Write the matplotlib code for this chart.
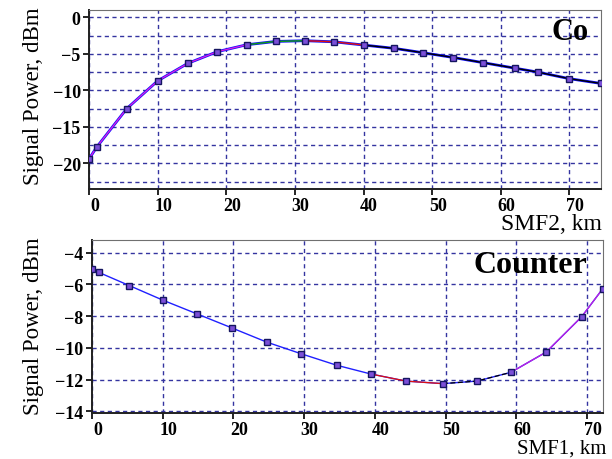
#Signal power along the fibre span for co- and counter-pumped cases.

import numpy as np
import matplotlib
import matplotlib.pyplot as plt
from matplotlib.transforms import ScaledTranslation

#Serif font close to Times New Roman.
font = {'family': 'Liberation Serif',
        'size': 12}
matplotlib.rc('font', **font)

#Co-pumped case (SMF2).
co_km = [0, 1.1, 5.5, 10.0, 14.4, 18.7, 23.0, 27.2, 31.5, 35.7, 40.1,
         44.5, 48.7, 53.1, 57.4, 62.0, 65.4, 70.0, 74.6]
co_dbm = [-19.4, -17.8, -12.5, -8.7, -6.3, -4.7, -3.75, -3.3, -3.2, -3.35,
          -3.8, -4.25, -4.85, -5.5, -6.2, -6.95, -7.5, -8.4, -9.05]

#Counter-pumped case (SMF1).
cnt_km = [0, 1.0, 5.3, 10.1, 14.9, 19.8, 24.7, 29.6, 34.6, 39.4, 44.4,
          49.6, 54.4, 59.2, 64.2, 69.2, 72.2]
cnt_dbm = [-5.02, -5.24, -6.07, -7.0, -7.86, -8.74, -9.63, -10.37, -11.09,
           -11.64, -12.09, -12.25, -12.09, -11.54, -10.26, -8.04, -6.26]

grid_col = '#3434a0'
mk = dict(marker='s', ms=4.5, mfc='#7b4fd8', mec='#151560', mew=1.0)

fig = plt.figure(figsize=(6.12, 4.6), dpi=100)
ax1 = fig.add_axes([0.1454, 0.587, 0.8366, 0.389])
ax2 = fig.add_axes([0.150, 0.100, 0.835, 0.376])

#Top panel: overlapping traces.
ax1.plot(co_km, co_dbm, color='#1010ff', lw=2.0, zorder=3)
ax1.plot(co_km[:7], co_dbm[:7], color='#e020e0', lw=0.9, zorder=4)
ax1.plot(co_km[6:9], co_dbm[6:9], color='#10a010', lw=1.0, zorder=4)
ax1.plot(co_km[8:11], co_dbm[8:11], color='#e01010', lw=1.0, zorder=4)
ax1.plot(co_km[10:], co_dbm[10:], color='black', lw=1.0, zorder=4)
ax1.plot(co_km, co_dbm, ls='none', zorder=5, **mk)

#Bottom panel.
ax2.plot(cnt_km, cnt_dbm, color='#2020ff', lw=1.0, zorder=3)
ax2.plot(cnt_km[9:12], cnt_dbm[9:12], color='#e01010', lw=0.9, zorder=4)
ax2.plot(cnt_km[11:14], cnt_dbm[11:14], color='black', lw=0.9, ls=(0, (4, 2)), zorder=4)
ax2.plot(cnt_km[13:], cnt_dbm[13:], color='#c020e0', lw=0.9, zorder=4)
ax2.plot(cnt_km, cnt_dbm, ls='none', zorder=5, **mk)

#Axis limits and ticks.
ax1.set_xlim(0, 74.6)
ax1.set_ylim(-23.5, 1.0)
ax1.set_xticks(np.arange(0, 71, 10))
ax1.set_yticks(np.arange(-20, 1, 5))
ax1.set_yticks(np.arange(-22.5, 1, 2.5), minor=True)

ax2.set_xlim(0, 72.2)
ax2.set_ylim(-14.1, -3.2)
ax2.set_xticks(np.arange(0, 71, 10))
ax2.set_yticks(np.arange(-14, -3, 2))

for ax in (ax1, ax2):
    ax.grid(which='both', color=grid_col, linestyle=(0, (3, 2.5)), linewidth=1.0)
    ax.set_axisbelow(True)
    ax.tick_params(which='major', direction='out', length=4, width=1.2, labelsize=13, pad=2)
    ax.tick_params(which='minor', length=0)
    for lab in ax.get_xticklabels() + ax.get_yticklabels():
        lab.set_fontweight('bold')
    #Tick labels in the original sit slightly right of the ticks.
    off = ScaledTranslation(4 / 72, 0, fig.dpi_scale_trans)
    for lab in ax.get_xticklabels():
        lab.set_transform(lab.get_transform() + off)
    for side in ('left', 'bottom'):
        ax.spines[side].set_linewidth(1.4)
        ax.spines[side].set_color('#202020')
    for side in ('top', 'right'):
        ax.spines[side].set_linewidth(0.8)
        ax.spines[side].set_color('#707070')

#Labels and panel titles.
fig.text(0.055, 0.79, 'Signal Power, dBm', rotation=90, ha='center', va='center', fontsize=16.5)
fig.text(0.055, 0.29, 'Signal Power, dBm', rotation=90, ha='center', va='center', fontsize=16.5)
fig.text(0.984, 0.512, 'SMF2, km', ha='right', va='center', fontsize=17)
fig.text(0.99, 0.004, 'SMF1, km', ha='right', va='bottom', fontsize=15)
ax1.text(0.975, 0.88, 'Co', transform=ax1.transAxes, ha='right', va='center',
         fontsize=22, fontweight='bold')
ax2.text(0.97, 0.86, 'Counter', transform=ax2.transAxes, ha='right', va='center',
         fontsize=23, fontweight='bold')

plt.savefig('out.png', dpi=100)
